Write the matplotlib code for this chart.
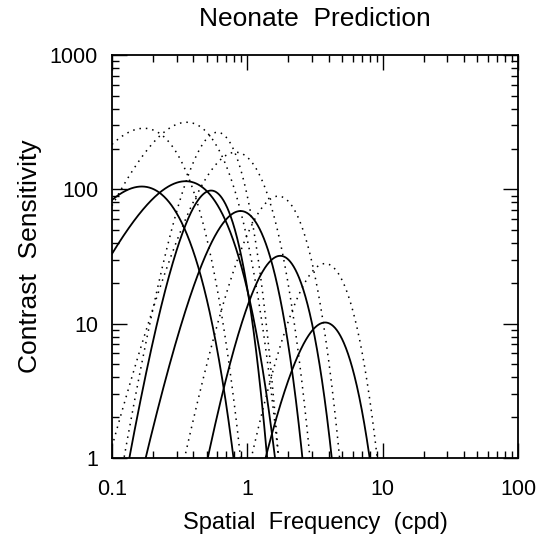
import numpy as np
import matplotlib
matplotlib.use("Agg")
import matplotlib.pyplot as plt
from matplotlib.ticker import LogLocator, FixedLocator, NullFormatter

# values (peak frequency in cpd, peak sensitivity,
# high frequency where the curve falls to a sensitivity of 1)
solid_peak_f = [0.166, 0.35, 0.54, 0.89, 1.75, 3.75]
solid_peak_s = [105, 115, 98, 69, 32, 10.2]
solid_cutoff = [0.79, 1.6, 1.4, 2.55, 4.2, 8.0]

dotted_peak_f = [0.172, 0.356, 0.6, 0.82, 1.69, 3.75]
dotted_peak_s = [285, 316, 266, 189, 89, 28]
dotted_cutoff = [0.89, 1.7, 1.7, 2.9, 4.8, 9.1]

x_ticks = [0.1, 1, 10, 100]
x_labels = ["0.1", "1", "10", "100"]
y_ticks = [1, 10, 100, 1000]
y_labels = ["1", "10", "100", "1000"]


def csf(f, fp, smax, fc):
    # S = smax * (f/fp)^a * exp(-a (f/fp - 1)), a set so that S(fc) = 1
    xc = fc / fp
    a = -np.log10(smax) / (np.log10(xc) - (xc - 1) / np.log(10))
    x = f / fp
    return smax * x ** a * np.exp(-a * (x - 1))


plt.rcParams['font.family'] = ['Liberation Sans', 'DejaVu Sans']

fig = plt.figure(figsize=(5.53, 5.40), dpi=100)
ax = fig.add_axes([0.2025, 0.152, 0.7345, 0.746])

f = np.geomspace(0.1, 12, 800)
for fp, sm, fc in zip(dotted_peak_f, dotted_peak_s, dotted_cutoff):
    ax.plot(f, csf(f, fp, sm, fc), color='black', lw=1.1, ls=(0, (1, 3.2)))
for fp, sm, fc in zip(solid_peak_f, solid_peak_s, solid_cutoff):
    ax.plot(f, csf(f, fp, sm, fc), color='black', lw=1.3)

ax.set_xscale('log')
ax.set_yscale('log')
ax.set_xlim(0.1, 100)
ax.set_ylim(1, 1000)

ax.xaxis.set_major_locator(FixedLocator(x_ticks))
ax.set_xticklabels(x_labels)
ax.yaxis.set_major_locator(FixedLocator(y_ticks))
ax.set_yticklabels(y_labels)
ax.xaxis.set_minor_locator(LogLocator(base=10, subs=np.arange(2, 10)))
ax.yaxis.set_minor_locator(LogLocator(base=10, subs=np.arange(2, 10)))
ax.xaxis.set_minor_formatter(NullFormatter())
ax.yaxis.set_minor_formatter(NullFormatter())

ax.tick_params(which='both', direction='in', top=True, right=True,
               labelsize=15.5, width=1.0)
ax.tick_params(which='major', length=11, pad=10)
ax.tick_params(axis='x', which='major', pad=15)
ax.tick_params(which='minor', length=5)
for s in ax.spines.values():
    s.set_linewidth(1.3)

ax.set_title("Neonate  Prediction", fontsize=19, pad=21)
ax.set_xlabel("Spatial  Frequency  (cpd)", fontsize=17, labelpad=9)
ax.set_ylabel("Contrast  Sensitivity", fontsize=19, labelpad=6)

fig.savefig("out.png", dpi=100)
